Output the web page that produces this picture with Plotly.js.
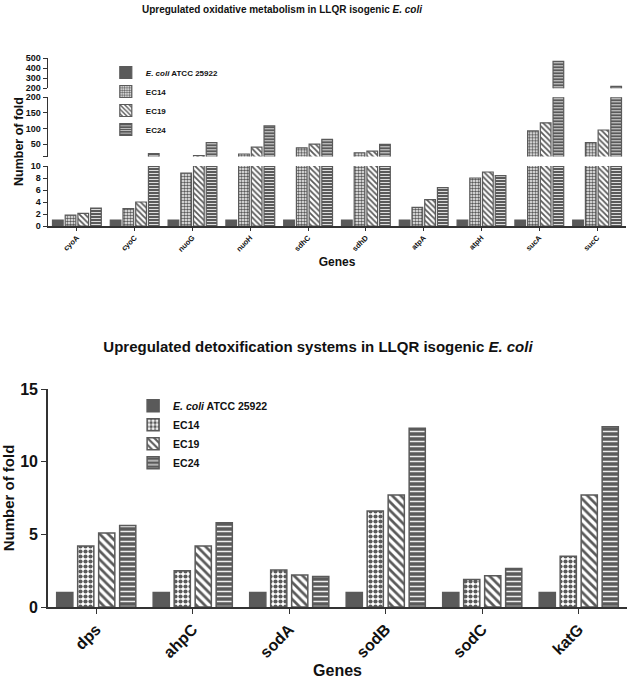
<!DOCTYPE html>
<html><head><meta charset="utf-8">
<script src="https://cdn.plot.ly/plotly-3.0.1.min.js"></script>
<style>
body{margin:0;background:#fff}
#top{position:absolute;left:0;top:0;width:630px;height:290px}
#bot{position:absolute;left:0;top:300px;width:630px;height:379px}
</style>
</head><body>
<div id="top"></div><div id="bot"></div>
<script>
// ---------- data ----------
const seriesNames = ['<i>E. coli</i> ATCC 25922', 'EC14', 'EC19', 'EC24'];

const genesTop = ['cyoA','cyoC','nuoG','nuoH','sdhC','sdhD','atpA','atpH','sucA','sucC'];
const atccTop  = [1, 1, 1, 1, 1, 1, 1, 1, 1, 1];
const ec14Top  = [1.8, 2.9, 8.8, 18, 38, 22, 3.1, 8.0, 92, 55];
const ec19Top  = [2.1, 4.0, 13, 40, 50, 27, 4.4, 9.0, 118, 95];
const ec24Top  = [3.0, 19, 55, 108, 65, 49, 6.4, 8.4, 470, 220];

const genesBottom = ['dps','ahpC','sodA','sodB','sodC','katG'];
const atccBottom  = [1, 1, 1, 1, 1, 1];
const ec14Bottom  = [4.2, 2.5, 2.55, 6.6, 1.9, 3.5];
const ec19Bottom  = [5.1, 4.2, 2.2, 7.7, 2.15, 7.7];
const ec24Bottom  = [5.6, 5.8, 2.1, 12.3, 2.65, 12.4];

const topTickVals0 = [0, 2, 4, 6, 8, 10];
const topTickVals1 = [10, 50, 100, 150, 200];
const topTickText1 = ['', '50', '100', '150', '200'];
const topTickVals2 = [200, 300, 400, 500];
const bottomTickVals = [0, 5, 10, 15];

// ---------- styles ----------
const DARK = '#5a5a5a';
const FONT = 'Liberation Sans, Arial, Helvetica, sans-serif';

function markerFor(i, lw, ps) {
  const line = {color: DARK, width: lw};
  if (i === 0) return {color: DARK, line};
  if (i === 1) return {color: '#fff', line, pattern: {shape: '.', fgcolor: DARK, bgcolor: '#fff', size: ps, solidity: 0.55}};
  if (i === 2) return {color: '#fff', line, pattern: {shape: '\\', fgcolor: DARK, bgcolor: '#fff', size: ps + 1, solidity: 0.45}};
  return {color: DARK, line, pattern: {shape: '-', fgcolor: '#ececec', bgcolor: DARK, size: ps, solidity: 0.3}};
}

// ---------- top chart (broken y axis: three stacked segments) ----------
const topSeries = [atccTop, ec14Top, ec19Top, ec24Top];
const H1 = 290, T1 = 58, B1 = 64, PH1 = H1 - T1 - B1; // plot 58..226
const segs = [
  {ax: 'y',  key: 'yaxis',  range: [0, 10],    px: [166, 226],    tv: topTickVals0, tt: null},
  {ax: 'y2', key: 'yaxis2', range: [10, 200],  px: [97.3, 156.5], tv: topTickVals1, tt: topTickText1},
  {ax: 'y3', key: 'yaxis3', range: [200, 500], px: [58.3, 88.3],  tv: topTickVals2, tt: null}
];
const topTraces = [];
segs.forEach((s, si) => {
  topSeries.forEach((vals, i) => {
    // a bar only appears in a segment if it reaches above that segment's floor
    const yv = vals.map(v => (v > s.range[0] ? v : null));
    topTraces.push({
      type: 'bar', x: genesTop, y: yv, name: seriesNames[i],
      xaxis: 'x', yaxis: s.ax, marker: markerFor(i, 1.2, 3),
      showlegend: si === 0, legendgroup: 'g' + i, hoverinfo: 'x+y'
    });
  });
});
const topLayout = {
  width: 630, height: H1,
  margin: {l: 48, r: 4, t: T1, b: B1},
  paper_bgcolor: '#fff', plot_bgcolor: '#fff',
  font: {family: FONT, color: '#111', weight: 'bold'},
  barmode: 'group', bargap: 0.12, bargroupgap: 0.16,
  title: {text: 'Upregulated oxidative metabolism in LLQR isogenic <i>E. coli</i>',
          font: {size: 10, weight: 'bold', color: '#111'},
          x: 282 / 630, xanchor: 'center', xref: 'container', y: 1 - 9 / H1, yanchor: 'middle', yref: 'container'},
  xaxis: {type: 'category', range: [-0.5, 9.5], anchor: 'y', showline: true, linecolor: '#333', linewidth: 1.5,
          ticks: 'outside', ticklen: 3, tickcolor: '#333', tickangle: -45, showgrid: false, zeroline: false,
          tickfont: {size: 7.5, weight: 'bold'},
          title: {text: 'Genes', font: {size: 12, weight: 'bold'}, standoff: 5}},
  legend: {x: 0.1, y: 1.0, xanchor: 'left', yanchor: 'top', bgcolor: 'rgba(0,0,0,0)',
           font: {size: 8, weight: 'bold'}, tracegroupgap: 0, itemwidth: 30},
  annotations: [{text: 'Number of fold', textangle: -90, xref: 'paper', yref: 'paper',
                 x: (19 - 48) / 578, y: 0.5, xanchor: 'center', yanchor: 'middle', showarrow: false,
                 font: {size: 12.5, weight: 'bold', color: '#111'}}],
  showlegend: true
};
segs.forEach((s) => {
  topLayout[s.key] = {
    domain: [(226 - s.px[1]) / PH1, (226 - s.px[0]) / PH1],
    range: s.range, anchor: 'x', showline: true, linecolor: '#333', linewidth: 1.5,
    ticks: 'outside', ticklen: 4, tickcolor: '#333', showgrid: false, zeroline: false,
    tickmode: 'array', tickvals: s.tv, ticktext: s.tt || s.tv.map(String),
    tickfont: {size: 9, weight: 'bold'}
  };
});
Plotly.newPlot('top', topTraces, topLayout, {displayModeBar: false, staticPlot: true});

// ---------- bottom chart ----------
const botSeries = [atccBottom, ec14Bottom, ec19Bottom, ec24Bottom];
const H2 = 379, T2 = 89.3, B2 = 71.7;
const botTraces = botSeries.map((vals, i) => ({
  type: 'bar', x: genesBottom, y: vals, name: seriesNames[i],
  marker: markerFor(i, 1.5, 5), hoverinfo: 'x+y'
}));
const botLayout = {
  width: 630, height: H2,
  margin: {l: 48, r: 3, t: T2, b: B2},
  paper_bgcolor: '#fff', plot_bgcolor: '#fff',
  font: {family: FONT, color: '#111', weight: 'bold'},
  barmode: 'group', bargap: 0.13, bargroupgap: 0.23,
  title: {text: 'Upregulated detoxification systems in LLQR isogenic <i>E. coli</i>',
          font: {size: 15, weight: 'bold', color: '#111'},
          x: 318 / 630, xanchor: 'center', xref: 'container', y: 1 - 47 / H2, yanchor: 'middle', yref: 'container'},
  xaxis: {type: 'category', range: [-0.5, 5.5], showline: true, linecolor: '#333', linewidth: 1.8,
          ticks: 'outside', ticklen: 5, tickcolor: '#333', tickangle: -45, showgrid: false, zeroline: false,
          tickfont: {size: 16, weight: 'bold'},
          title: {text: 'Genes', font: {size: 16, weight: 'bold'}, standoff: 12}},
  yaxis: {range: [0, 15], showline: true, linecolor: '#333', linewidth: 1.8,
          ticks: 'outside', ticklen: 5, tickcolor: '#333', showgrid: false, zeroline: false,
          tickmode: 'array', tickvals: bottomTickVals, tickfont: {size: 16, weight: 'bold'},
          title: {text: 'Number of fold', font: {size: 15, weight: 'bold'}, standoff: 8}},
  legend: {x: 0.147, y: 0.99, xanchor: 'left', yanchor: 'top', bgcolor: 'rgba(0,0,0,0)',
           font: {size: 10.5, weight: 'bold'}, tracegroupgap: 0},
  showlegend: true
};
Plotly.newPlot('bot', botTraces, botLayout, {displayModeBar: false, staticPlot: true});
</script>
</body></html>
